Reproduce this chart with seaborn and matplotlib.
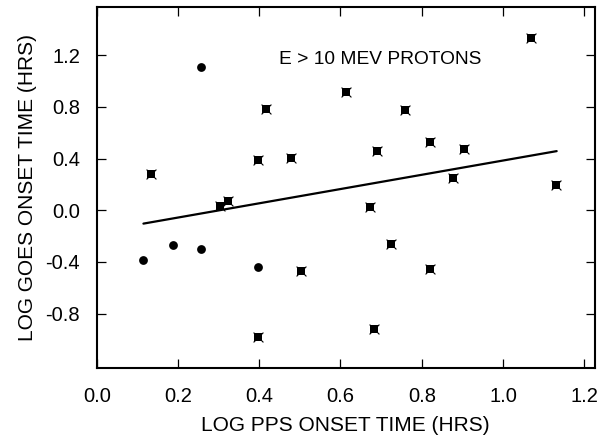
import numpy as np
import pandas as pd
import matplotlib
matplotlib.use('Agg')
import matplotlib.pyplot as plt
import seaborn as sns

# ---------------------------------------------------------------
# Data (log hours)
# ---------------------------------------------------------------
star_x = [0.134, 0.304, 0.323, 0.398, 0.398, 0.416, 0.477, 0.502, 0.613, 0.672,
          0.682, 0.691, 0.725, 0.758, 0.821, 0.821, 0.877, 0.903, 1.069, 1.131]
star_y = [0.284, 0.031, 0.070, 0.387, -0.983, 0.787, 0.405, -0.470, 0.917, 0.023,
          -0.918, 0.458, -0.259, 0.779, 0.529, -0.451, 0.247, 0.471, 1.335, 0.197]

dot_x = [0.115, 0.187, 0.257, 0.257, 0.398]
dot_y = [-0.387, -0.266, -0.297, 1.109, -0.436]

# least-squares fit line endpoints
fit_x = [0.115, 1.132]
fit_y = [-0.103, 0.458]

x_ticks = [0.0, 0.2, 0.4, 0.6, 0.8, 1.0, 1.2]
y_ticks = [-0.8, -0.4, 0.0, 0.4, 0.8, 1.2]

stars = pd.DataFrame({'pps': star_x, 'goes': star_y})
dots = pd.DataFrame({'pps': dot_x, 'goes': dot_y})
fit = pd.DataFrame({'pps': fit_x, 'goes': fit_y})

# ---------------------------------------------------------------
# Plot
# ---------------------------------------------------------------
sns.set_theme(style='white')
plt.rcParams['font.family'] = ['Liberation Sans', 'DejaVu Sans']

fig = plt.figure(figsize=(6.12, 4.37), dpi=100)
ax = fig.add_axes([0.158, 0.158, 0.814, 0.825])

sns.lineplot(data=fit, x='pps', y='goes', color='black', linewidth=1.6, ax=ax)
sns.scatterplot(data=stars, x='pps', y='goes', marker='s', s=26,
                color='black', edgecolor='black', linewidth=0, ax=ax)
sns.scatterplot(data=stars, x='pps', y='goes', marker='x', s=50,
                color='black', linewidth=0.8, ax=ax)
sns.scatterplot(data=dots, x='pps', y='goes', marker='o', s=40,
                color='black', edgecolor='black', linewidth=0, ax=ax)

ax.text(0.697, 1.169, 'E > 10 MEV PROTONS', fontsize=13.8,
        ha='center', va='center', color='black')

ax.set_xlim(0.0, 1.226)
ax.set_ylim(-1.22, 1.57)
ax.set_xticks(x_ticks)
ax.set_yticks(y_ticks)
ax.set_xticklabels([f'{v:.1f}' for v in x_ticks])
ax.set_yticklabels([f'{v:.1f}' for v in y_ticks])

ax.tick_params(axis='both', direction='in', length=6.5, width=0.9,
               colors='black', labelsize=14.5, top=True, right=True,
               bottom=True, left=True)
ax.tick_params(axis='x', pad=14)
ax.tick_params(axis='y', pad=12)

for sp in ax.spines.values():
    sp.set_linewidth(1.5)
    sp.set_color('black')

ax.set_xlabel('LOG PPS ONSET TIME (HRS)', fontsize=15, color='black', labelpad=7)
ax.set_ylabel('LOG GOES ONSET TIME (HRS)', fontsize=15, color='black', labelpad=6)

fig.savefig('out.png', dpi=100, facecolor='white')
plt.close(fig)
